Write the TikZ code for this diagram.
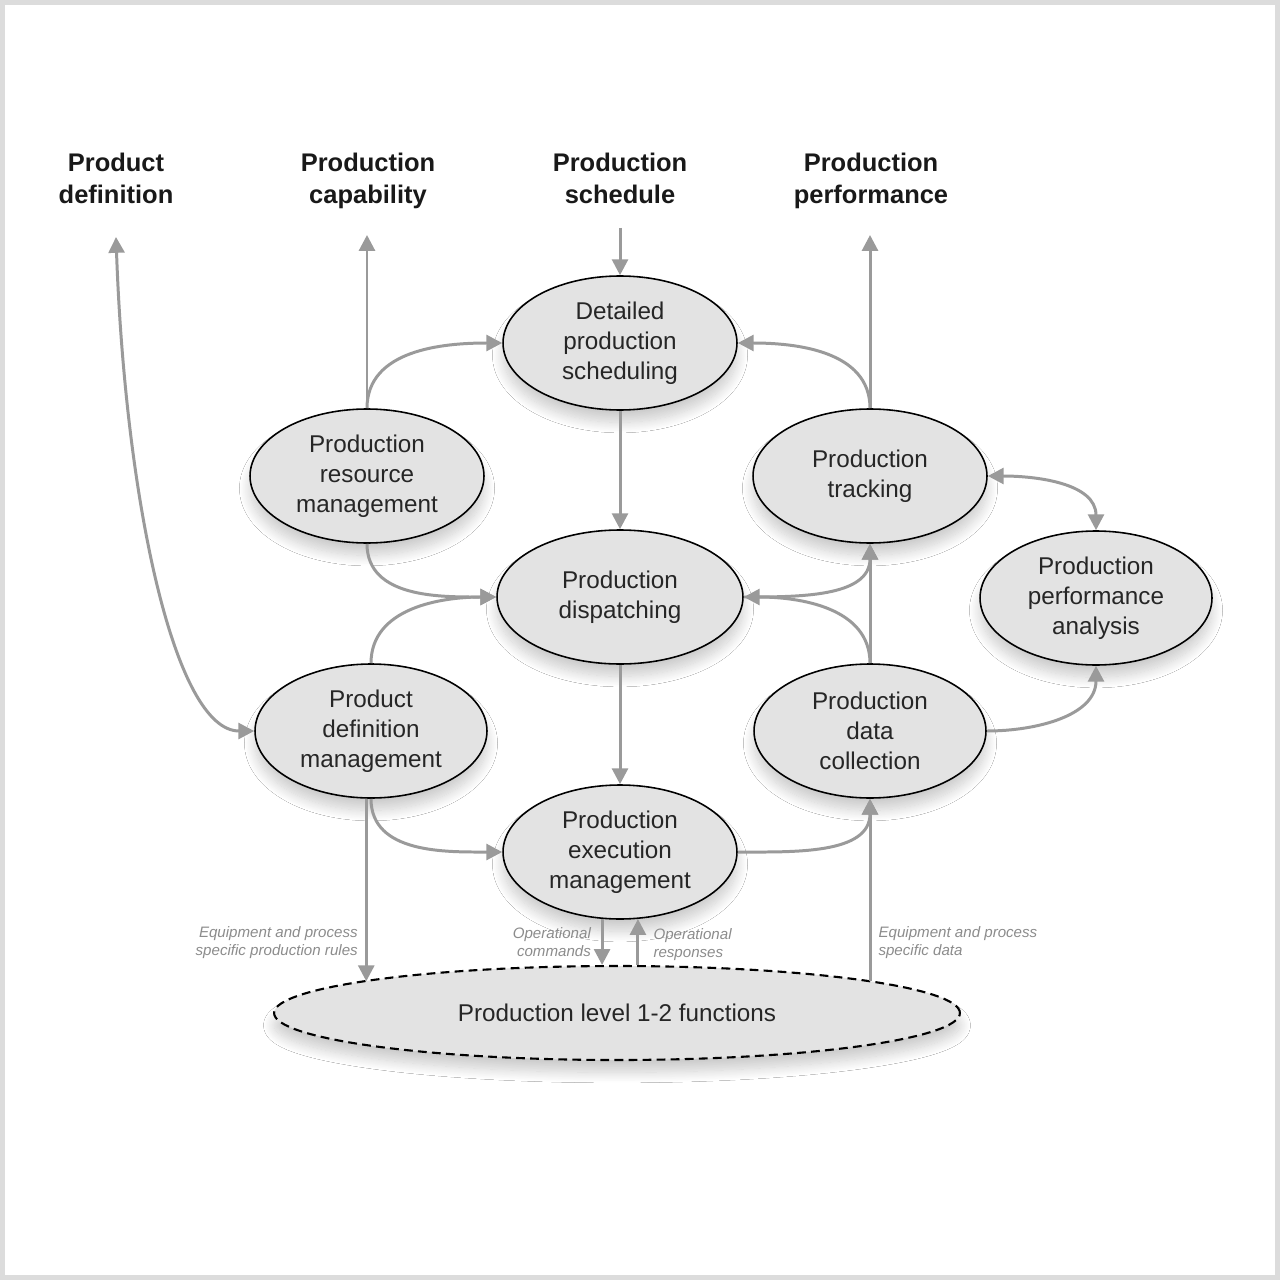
\documentclass[tikz,border=0pt]{standalone}
\usepackage{fontspec}
\setmainfont{Liberation Sans}
\usetikzlibrary{shapes.geometric,arrows.meta,shadows.blur}
\definecolor{flowgray}{HTML}{9A9A9A}
\definecolor{fillgray}{HTML}{E3E3E3}
\definecolor{notegray}{HTML}{8C8C8C}
\definecolor{framegray}{HTML}{DCDCDC}

\begin{document}
\begin{tikzpicture}[x=0.02cm,y=-0.02cm,
  >={Triangle[length=9pt,width=9pt]},
  func/.style={ellipse,draw,line width=0.9pt,fill=fillgray,minimum width=4.68cm,minimum height=2.68cm,inner sep=0pt,align=center,
    font=\fontsize{13.8}{17}\selectfont,text=black!85,
    blur shadow={shadow xshift=0pt,shadow yshift=-7pt,shadow blur radius=6pt,shadow blur steps=16,shadow opacity=20}},
  hdr/.style={align=center,anchor=north,inner sep=0pt,font=\bfseries\fontsize{14.5}{18}\selectfont,text=black!90},
  flow/.style={draw=flowgray,line width=1.7pt},
  note/.style={font=\itshape\fontsize{8.6}{10.3}\selectfont,text=notegray,inner xsep=4pt,inner ysep=1pt}]
   % frame
   \useasboundingbox (0,0) rectangle (1280,1280);
   \fill[framegray] (0,0) rectangle (1280,1280);
   \fill[white] (5,5) rectangle (1275,1275);

   % headers
   \node (hdrdef) at (116,153) [hdr] {Product\\definition};
   \node (hdrcap) at (368,153) [hdr] {Production\\capability};
   \node (hdrsched) at (620,153) [hdr] {Production\\schedule};
   \node (hdrperf) at (871,153) [hdr] {Production\\performance};
   \coordinate (defend) at (116,237);
   \coordinate (capend) at (367,235);
   \coordinate (schedstart) at (620,228);
   \coordinate (perfend) at (870,235);

   % functions
   \node (sched) at (620,343) [func] {Detailed\\production\\scheduling};
   \node (resmgt) at (367,476) [func] {Production\\resource\\management};
   \node (track) at (870,476) [func] {Production\\tracking};
   \node (disp) at (620,597) [func,minimum width=4.92cm] {Production\\dispatching};
   \node (anal) at (1096,598) [func,minimum width=4.64cm] {Production\\performance\\analysis};
   \node (defmgt) at (371,731) [func,minimum width=4.64cm] {Product\\definition\\management};
   \node (collect) at (870,731) [func,minimum width=4.64cm] {Production\\data\\collection};
   \node (exec) at (620,852) [func] {Production\\execution\\management};
   \node (level) at (617,1013) [func,line width=1.2pt,dash pattern=on 5pt off 3pt,minimum width=13.72cm,minimum height=1.88cm] {Production level 1-2 functions};

   % flows
   \draw[flow,<->] (defend) to[out=-88,in=180,out looseness=1.3,in looseness=0.4] (defmgt.west);
   \draw[flow,->] (resmgt.north) -- (capend);
   \draw[flow,->] (resmgt.north) to[out=90,in=180] (sched.west);
   \draw[flow,->] (schedstart) -- (sched.north);
   \draw[flow,->] (sched.south) -- (disp.north);
   \draw[flow,->] (track.north) -- (perfend);
   \draw[flow,->] (track.north) to[out=90,in=0] (sched.east);
   \draw[flow,<->] (track.east) to[out=0,in=90] (anal.north);
   \draw[flow,->] (resmgt.south) to[out=-90,in=180] (disp.west);
   \draw[flow,->] (defmgt.north) to[out=90,in=180] (disp.west);
   \draw[flow,->] (disp.east) to[out=0,in=-90] (track.south);
   \draw[flow,->] (collect.north) to[out=90,in=0] (disp.east);
   \draw[flow,->] (collect.north) -- (track.south);
   \draw[flow,->] (collect.east) to[out=0,in=-90] (anal.south);
   \draw[flow,->] (disp.south) -- (exec.north);
   \draw[flow,->] (defmgt.south) to[out=-90,in=180] (exec.west);
   \draw[flow,->] (exec.east) to[out=0,in=-90] (collect.south);

   % level 1-2 links
   \draw[flow,->] (defmgt.266) -- node[note,left,pos=0.79,align=right] {Equipment and process\\specific production rules} (defmgt.266 |- level.173);
   \draw[flow,->] (exec.255) -- node[note,left,inner xsep=5.5pt,align=right] {Operational\\commands} (exec.255 |- level.north);
   \draw[flow,->] (exec.285 |- level.north) -- node[note,right,inner xsep=8pt,pos=0.45,align=left] {Operational\\responses} (exec.285);
   \draw[flow,->] (collect.south |- level.7) -- node[note,right,pos=0.21,align=left] {Equipment and process\\specific data} (collect.south);
  \end{tikzpicture}
\end{document}
